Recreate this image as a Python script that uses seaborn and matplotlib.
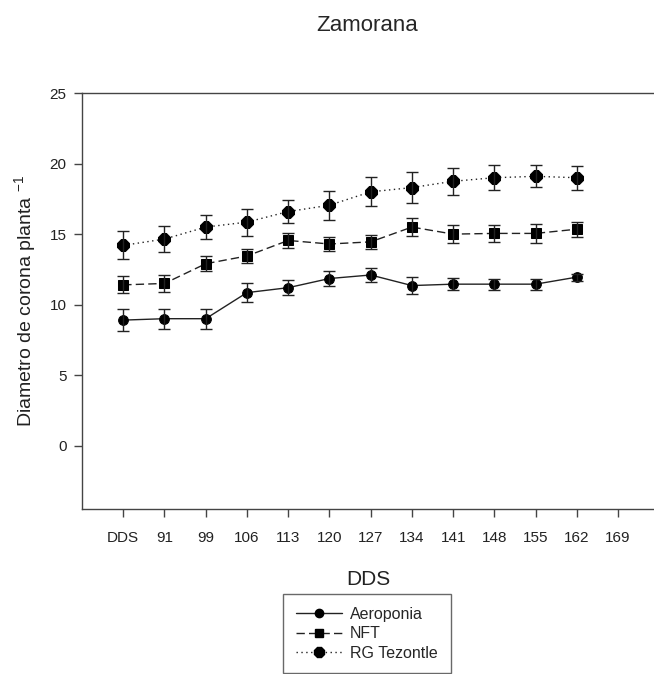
import pandas as pd
import matplotlib
matplotlib.use("Agg")
import matplotlib.pyplot as plt
import seaborn as sns

# tick labels along the x axis (first one is literally "DDS" in the original)
tick_labels = ["DDS", "91", "99", "106", "113", "120", "127", "134", "141", "148", "155", "162", "169"]
sample_days = ["DDS", "91", "99", "106", "113", "120", "127", "134", "141", "148", "155", "162"]

aeroponia = [8.9, 9.0, 9.0, 10.85, 11.2, 11.85, 12.1, 11.35, 11.45, 11.45, 11.45, 11.95]
aeroponia_err = [0.8, 0.7, 0.7, 0.65, 0.55, 0.5, 0.47, 0.58, 0.43, 0.4, 0.4, 0.25]

nft = [11.4, 11.5, 12.9, 13.45, 14.55, 14.3, 14.45, 15.5, 15.0, 15.05, 15.05, 15.35]
nft_err = [0.6, 0.58, 0.52, 0.52, 0.55, 0.47, 0.5, 0.64, 0.66, 0.6, 0.65, 0.53]

rg_tezontle = [14.2, 14.65, 15.5, 15.85, 16.6, 17.05, 18.0, 18.3, 18.75, 19.0, 19.1, 19.0]
rg_err = [0.99, 0.95, 0.86, 0.95, 0.82, 1.02, 1.04, 1.1, 0.97, 0.88, 0.79, 0.84]

series = {
    "Aeroponia": (aeroponia, aeroponia_err),
    "NFT": (nft, nft_err),
    "RG Tezontle": (rg_tezontle, rg_err),
}

rows = []
for name, (vals, errs) in series.items():
    for i, (v, e) in enumerate(zip(vals, errs)):
        rows.append({"pos": i, "day": sample_days[i], "value": v, "err": e, "system": name})
df = pd.DataFrame(rows)

sns.set_theme(style="white")
plt.rcParams["font.family"] = ["Liberation Sans", "DejaVu Sans"]

line_color = "#222222"
styles = {
    "Aeroponia": dict(ls="-", marker="o", ms=7),
    "NFT": dict(ls=(0, (6, 3)), marker="s", ms=7),
    "RG Tezontle": dict(ls=(0, (1, 2.5)), marker="8", ms=9),
}

fig = plt.figure(figsize=(6.54, 6.74), dpi=100)
ax = fig.add_axes([0.1254, 0.2448, 0.8746, 0.617])

handles = []
for name in series:
    sub = df[df["system"] == name]
    st = styles[name]
    sns.lineplot(data=sub, x="pos", y="value", ax=ax, color=line_color,
                 linestyle=st["ls"], marker=st["marker"], markersize=st["ms"],
                 markeredgecolor="black", markerfacecolor="black",
                 linewidth=1.0, errorbar=None, label=name, legend=False)
    ax.errorbar(sub["pos"], sub["value"], yerr=sub["err"], fmt="none",
                ecolor=line_color, elinewidth=1.0, capsize=4.5, capthick=1.0)
    h, = ax.plot([], [], color=line_color, linestyle=st["ls"], marker=st["marker"],
                 markersize=st["ms"] - 1, markerfacecolor="black",
                 markeredgecolor="black", linewidth=1.0)
    handles.append(h)

ax.set_xlim(-1, 12.87)
ax.set_ylim(-4.5, 25)
ax.set_xticks(range(len(tick_labels)))
ax.set_xticklabels(tick_labels)
ax.set_yticks([0, 5, 10, 15, 20, 25])

for side in ["left", "bottom", "top"]:
    ax.spines[side].set_color("#444444")
    ax.spines[side].set_linewidth(1.0)
ax.spines["right"].set_visible(False)

ax.tick_params(axis="both", direction="out", length=6, width=1, color="#444444",
               labelsize=11, labelcolor="#222222", bottom=True, left=True)
ax.tick_params(axis="x", pad=10)
ax.tick_params(axis="y", pad=5)

ax.set_xlabel("DDS", fontsize=15, color="#222222", labelpad=18)
ax.set_ylabel(r"Diametro de corona planta $^{\mathregular{-1}}$", fontsize=14,
              color="#222222", labelpad=8)
fig.suptitle("Zamorana", fontsize=16, y=0.978, x=0.561)

leg = fig.legend(handles, list(series.keys()), loc="upper center",
                 bbox_to_anchor=(0.561, 0.1187), frameon=True, fancybox=False,
                 edgecolor="#444444", fontsize=11.5, handlelength=2.9,
                 handletextpad=0.5, borderpad=0.8, labelspacing=0.28,
                 borderaxespad=0)
leg.get_frame().set_linewidth(1.0)

fig.savefig("out.png", dpi=100)
